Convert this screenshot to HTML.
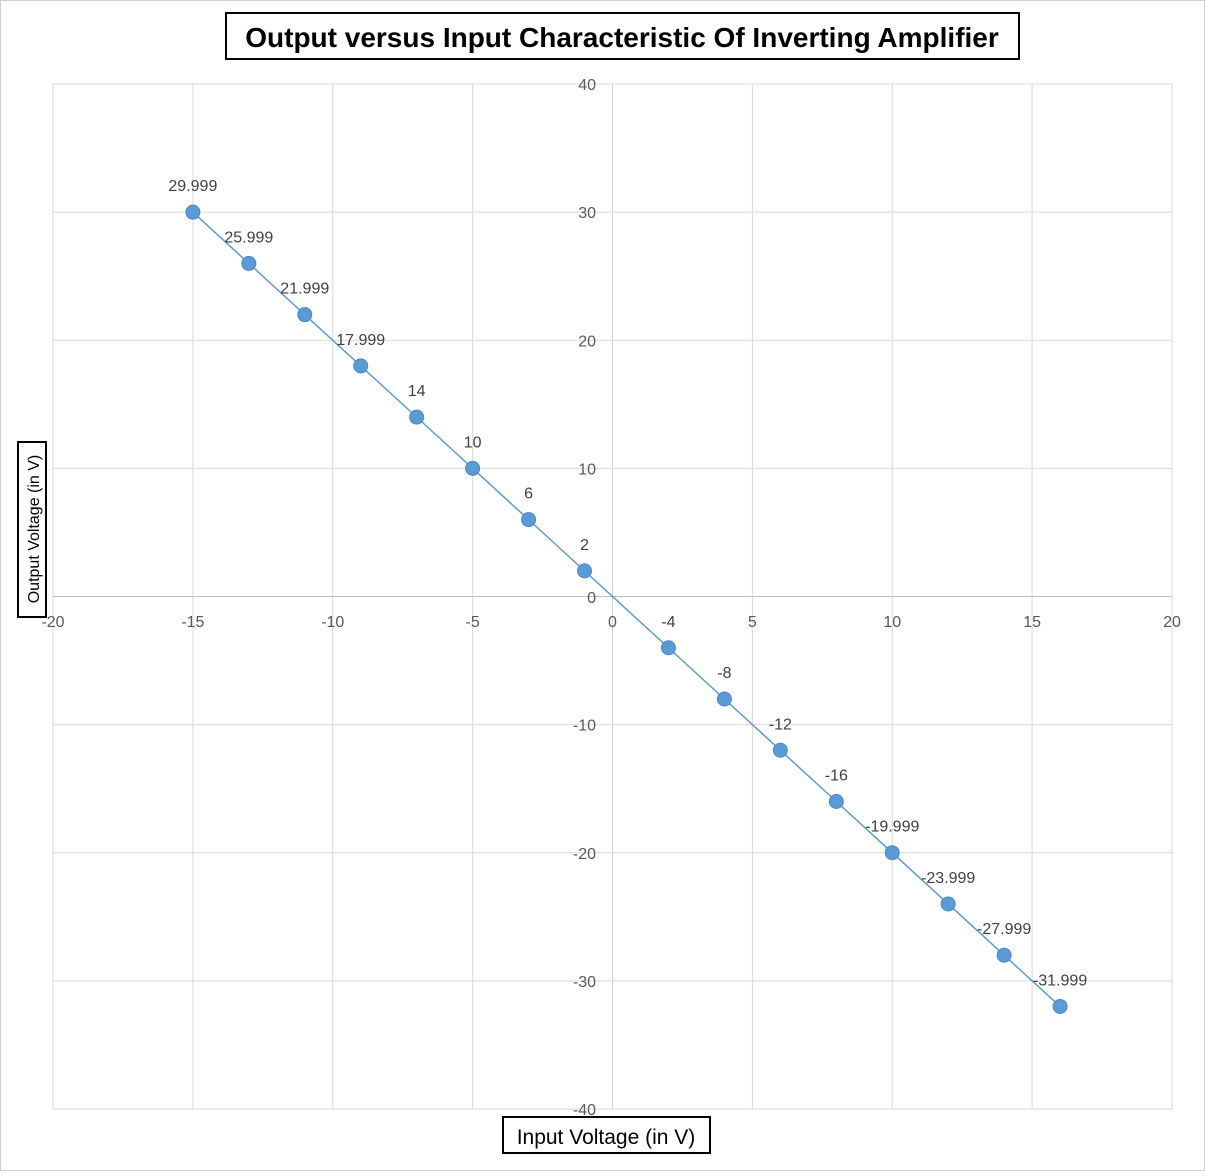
<!DOCTYPE html>
<html><head><meta charset="utf-8">
<style>
html,body{margin:0;padding:0;background:#fff;}
body{width:1205px;height:1171px;overflow:hidden;font-family:"Liberation Sans",sans-serif;}
</style></head>
<body>
<svg id="chart" width="1205" height="1171" xmlns="http://www.w3.org/2000/svg">
<rect x="0.5" y="0.5" width="1204" height="1170" fill="#fff" stroke="#d0d0d0"/>
<rect x="53" y="84" width="1119" height="1025" fill="none" stroke="#d9d9d9"/>
<g id="grid"></g>
<g id="ticks"></g>
<g id="series"></g>
<rect x="226" y="13" width="793" height="46" fill="#fff" stroke="#000" stroke-width="2"/>
<text x="622" y="47" text-anchor="middle" font-family="Liberation Sans, sans-serif" font-weight="bold" font-size="28" fill="#000">Output versus Input Characteristic Of Inverting Amplifier</text>
<rect x="503" y="1117" width="207" height="36" fill="#fff" stroke="#000" stroke-width="2"/>
<text x="606" y="1144" text-anchor="middle" font-size="21" fill="#000">Input Voltage (in V)</text>
<rect x="18" y="442" width="28" height="175" fill="#fff" stroke="#000" stroke-width="2"/>
<text transform="translate(39,529) rotate(-90)" text-anchor="middle" font-size="16" fill="#000">Output Voltage (in V)</text>
</svg>
<script>
const xValues=[-15,-13,-11,-9,-7,-5,-3,-1,2,4,6,8,10,12,14,16];
const yValues=[29.999,25.999,21.999,17.999,14,10,6,2,-4,-8,-12,-16,-19.999,-23.999,-27.999,-31.999];
const pointLabels=["29.999","25.999","21.999","17.999","14","10","6","2","-4","-8","-12","-16","-19.999","-23.999","-27.999","-31.999"];
const xTicks=[-20,-15,-10,-5,0,5,10,15,20];
const yTicks=[40,30,20,10,0,-10,-20,-30,-40];
const NS="http://www.w3.org/2000/svg";
function sx(v){return 612.5+(v)*(1119/40);}
function sy(v){return 596.5-(v)*(1025/80);}
function mk(tag,attrs,parent){const e=document.createElementNS(NS,tag);for(const k in attrs)e.setAttribute(k,attrs[k]);parent.appendChild(e);return e;}
const grid=document.getElementById('grid'),ticks=document.getElementById('ticks'),series=document.getElementById('series');
xTicks.forEach(t=>{
  const l=mk('line',{x1:sx(t),x2:sx(t),y1:84,y2:1109,stroke:t===0?'#d0d0d0':'#d9d9d9','stroke-width':1},grid);
  
  
  const tx=mk('text',{x:sx(t),y:627,'text-anchor':'middle','font-size':16,fill:'#595959'},ticks);
  tx.textContent=String(t);
  
  
});
yTicks.forEach(t=>{
  const l=mk('line',{x1:53,x2:1172,y1:sy(t),y2:sy(t),stroke:t===0?'#bfbfbf':'#d9d9d9','stroke-width':1},grid);
  
  
  if(t===0)return;
  const tx=mk('text',{x:596,y:sy(t)+6,'text-anchor':'end','font-size':16,fill:'#595959'},ticks);
  tx.textContent=String(t);
  
  
});
const z=mk('text',{x:596,y:603,'text-anchor':'end','font-size':16,fill:'#595959'},ticks);
z.textContent='0';


const pts=xValues.map((x,i)=>sx(x)+','+sy(yValues[i])).join(' ');
const pl=mk('polyline',{points:pts,fill:'none',stroke:'#5b9bd5','stroke-width':1.5},series);


xValues.forEach((x,i)=>{
  const c=mk('circle',{cx:sx(x),cy:sy(yValues[i]),r:7,fill:'#5b9bd5',stroke:'#4a89c8','stroke-width':1},series);
  
  
  const t=mk('text',{x:sx(x),y:sy(yValues[i])-21,'text-anchor':'middle','font-size':16,fill:'#404040'},series);
  t.textContent=pointLabels[i];
  
  
});
</script>
</body></html>
